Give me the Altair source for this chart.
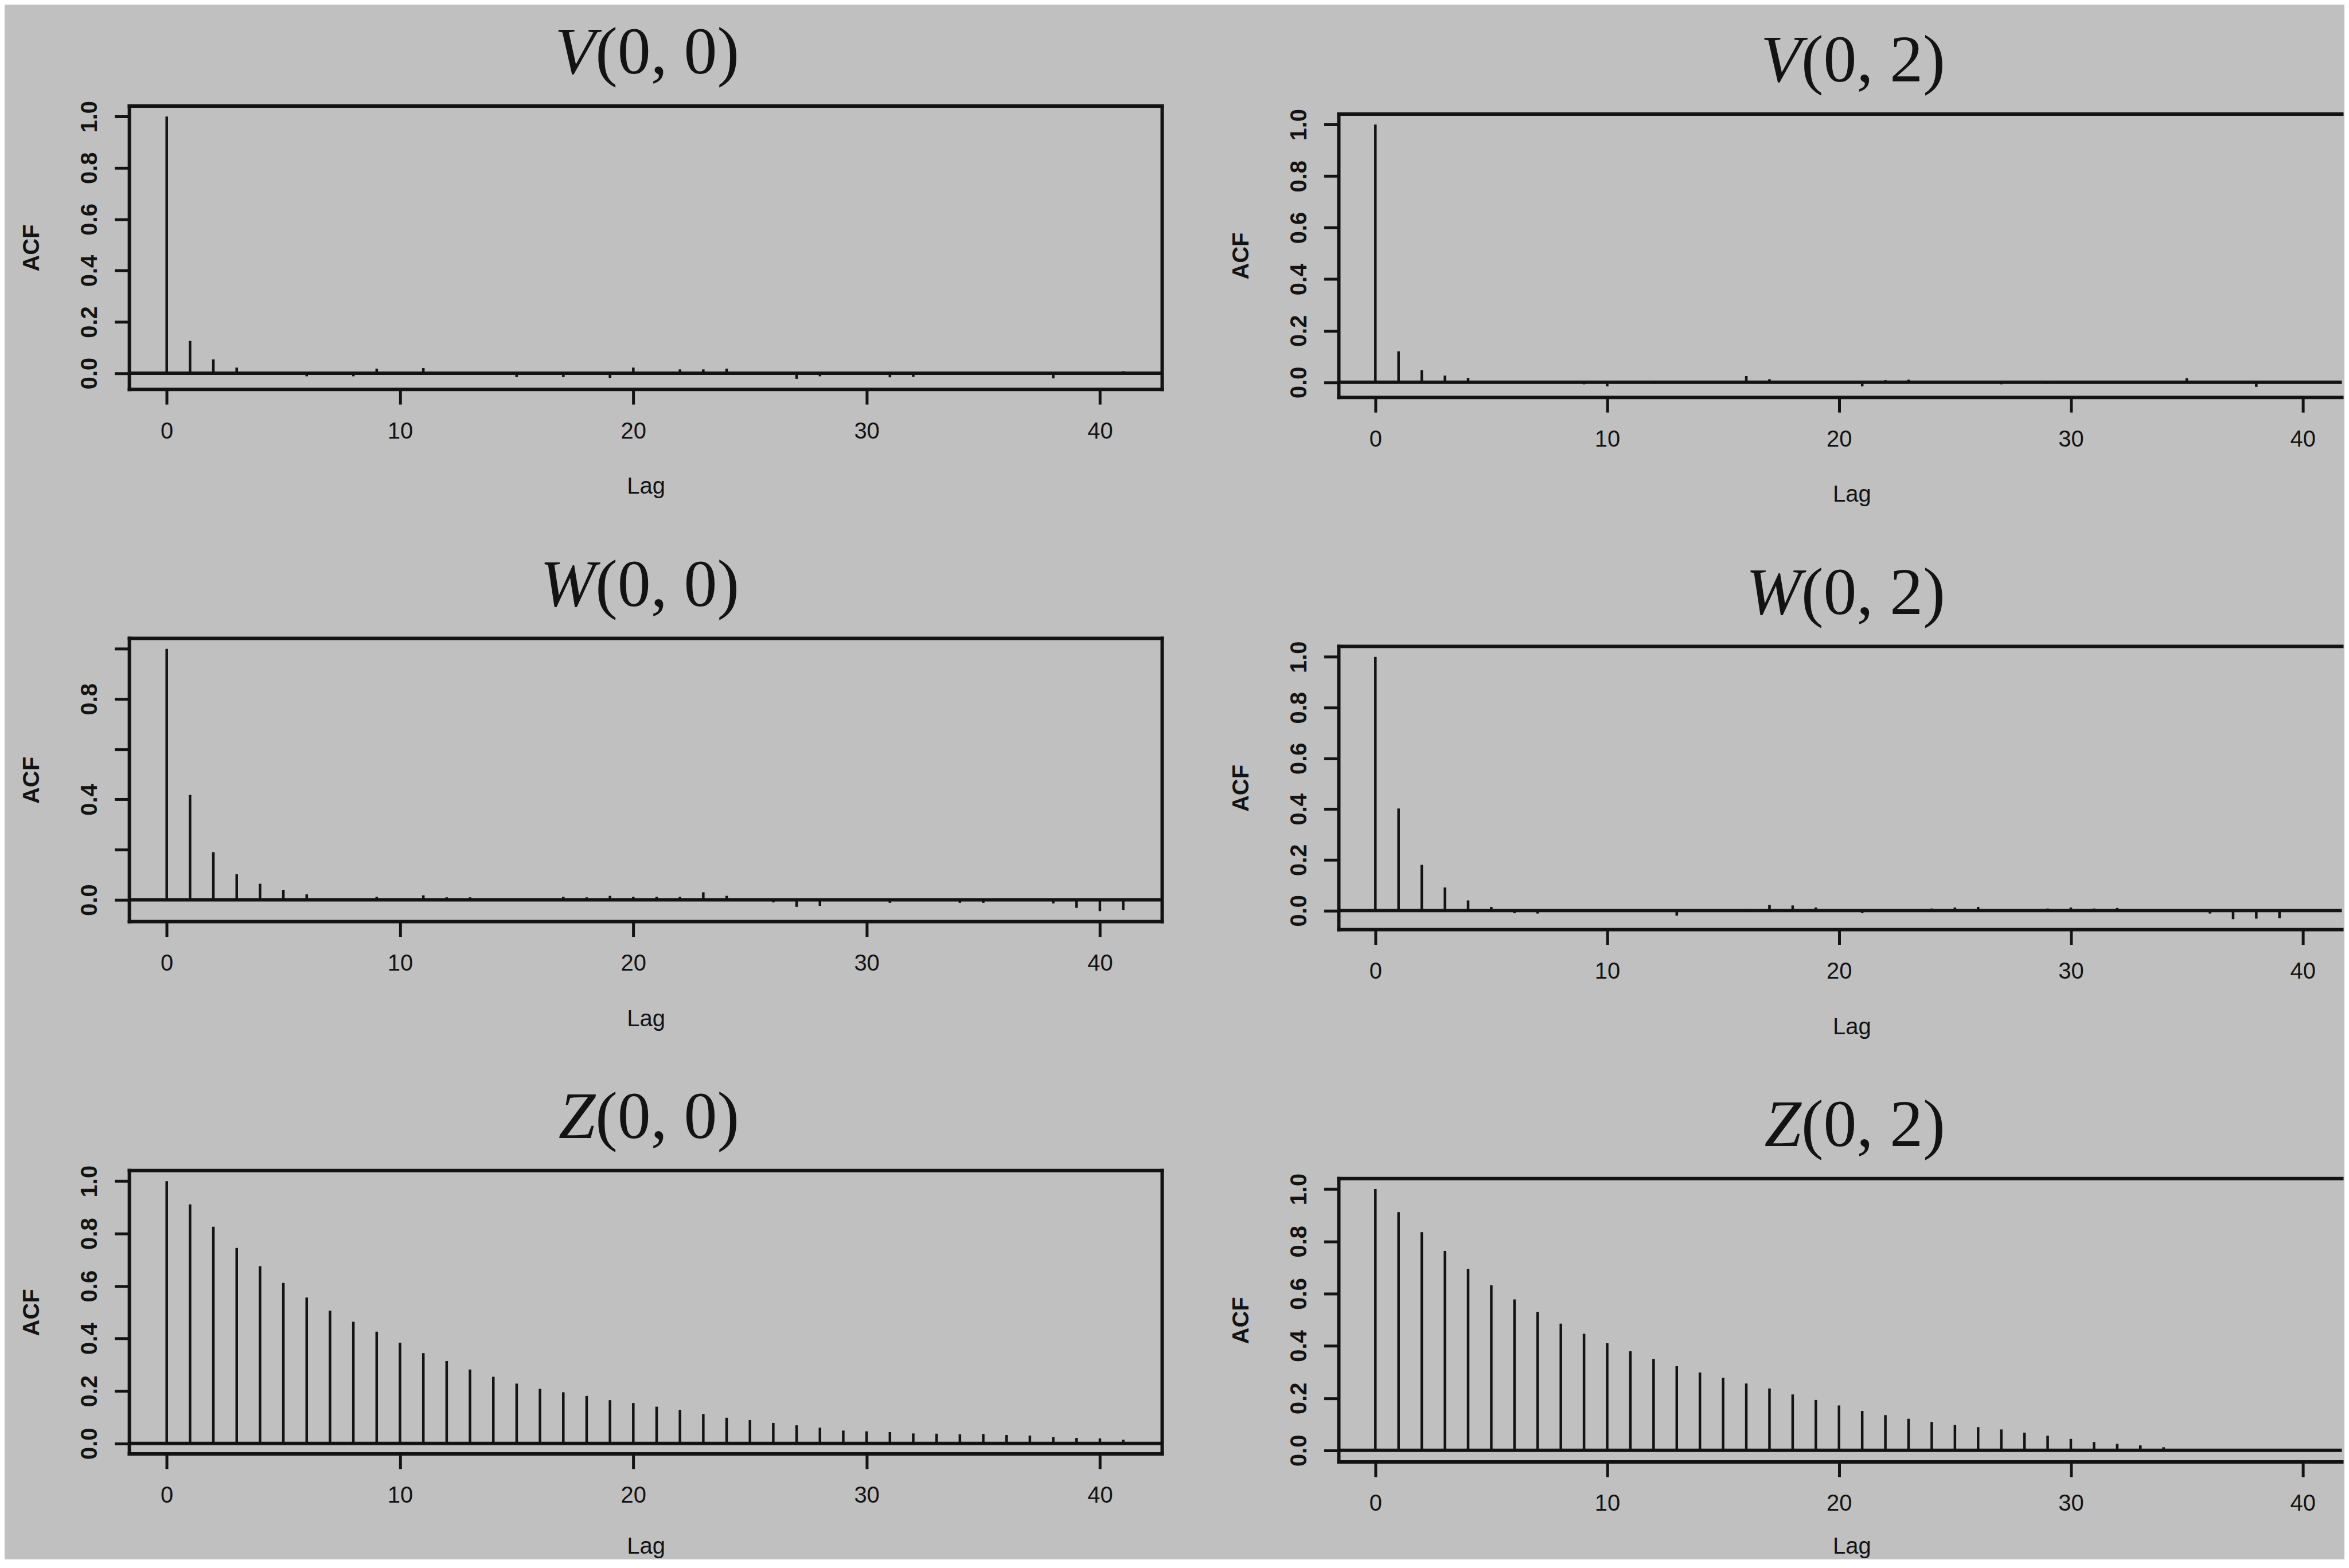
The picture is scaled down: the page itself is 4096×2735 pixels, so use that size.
import altair as alt
import pandas as pd

# ---------------- data ----------------
LAGS = list(range(42))

V00 = [1.0, 0.126, 0.054, 0.022, 0.003, -0.002, -0.012, -0.006, -0.012, 0.018,
       -0.004, 0.02, 0.002, -0.003, -0.002, -0.015, 0.002, -0.015, -0.002, -0.018,
       0.022, 0.002, 0.015, 0.015, 0.018, -0.003, -0.006, -0.022, -0.012, 0.006,
       -0.002, -0.016, -0.014, -0.002, 0.002, 0.004, -0.002, 0.002, -0.02, -0.002,
       -0.003, 0.008]

V02 = [1.0, 0.12, 0.047, 0.026, 0.017, 0.004, 0.002, -0.004, 0.006, -0.008,
       -0.016, -0.002, -0.006, 0.006, 0.002, 0.004, 0.024, 0.012, 0.002, -0.004,
       0.002, -0.016, 0.008, 0.01, -0.004, 0.002, 0.004, -0.008, 0.002, -0.006,
       0.003, 0.002, -0.004, 0.002, 0.002, 0.016, 0.003, -0.002, -0.018, 0.002,
       -0.004, 0.003]

W00 = [1.0, 0.418, 0.19, 0.102, 0.064, 0.04, 0.022, 0.003, 0.002, 0.012,
       0.002, 0.018, 0.01, 0.01, 0.002, -0.002, 0.005, 0.012, 0.01, 0.016,
       0.012, 0.012, 0.012, 0.03, 0.016, 0.002, -0.01, -0.028, -0.024, -0.004,
       0.002, -0.012, -0.002, -0.004, -0.012, -0.012, -0.003, -0.004, -0.014, -0.032,
       -0.045, -0.04]

W02 = [1.0, 0.402, 0.18, 0.091, 0.04, 0.014, -0.01, -0.012, -0.002, 0.002,
       -0.006, -0.002, 0.002, -0.02, 0.002, -0.002, 0.006, 0.022, 0.02, 0.012,
       0.002, -0.01, -0.006, -0.006, 0.008, 0.012, 0.014, 0.002, -0.006, 0.008,
       0.012, 0.008, 0.01, 0.003, 0.003, 0.004, -0.012, -0.034, -0.032, -0.03,
       -0.005, 0.002]

Z00 = [1.0, 0.911, 0.826, 0.745, 0.676, 0.612, 0.556, 0.506, 0.464, 0.426,
       0.384, 0.344, 0.314, 0.282, 0.254, 0.228, 0.208, 0.195, 0.181, 0.165,
       0.154, 0.14, 0.128, 0.112, 0.098, 0.089, 0.078, 0.069, 0.06, 0.049,
       0.046, 0.043, 0.038, 0.037, 0.035, 0.036, 0.032, 0.03, 0.024, 0.021,
       0.019, 0.014]

Z02 = [1.0, 0.912, 0.835, 0.763, 0.695, 0.632, 0.578, 0.53, 0.485, 0.446,
       0.41, 0.379, 0.35, 0.322, 0.298, 0.278, 0.256, 0.237, 0.214, 0.193,
       0.172, 0.151, 0.135, 0.121, 0.109, 0.097, 0.089, 0.08, 0.068, 0.056,
       0.044, 0.032, 0.025, 0.019, 0.012, 0.004, 0.0, -0.004, 0.0, 0.002,
       0.004, 0.002]

X_TICKS = [0, 10, 20, 30, 40]
Y_TICKS = [0.0, 0.2, 0.4, 0.6, 0.8, 1.0]
ALL_LABELS = ["0.0", "0.2", "0.4", "0.6", "0.8", "1.0"]
SPARSE_LABELS = ["0.0", "0.4", "0.8"]

# ---------------- style / layout ----------------
BG = "#c0c0c0"
INK = "#131313"
SANS = "Liberation Sans"
SERIF = "Liberation Serif"

H = 495            # box height
D_RIGHT = 14       # right column sits a little lower
W_L = 1804
W_R = 1752
XDOM_L = [-1.6, 42.67]
XDOM_R = [-1.578, 41.69]
CX_R = 895.8       # centre of the (partly cut) right box
FS_TITLE = 116
FS = 40
LW_FRAME = 6
LW_SPIKE = 4.5
LW_TICK = 5


def panel(vals, letter, rest, labels_keep, right, last_row):
    W = W_R if right else W_L
    top = D_RIGHT if right else 0
    bottom = top + H
    cx = CX_R if right else W_L / 2
    xdom = XDOM_R if right else XDOM_L

    lo = min(min(vals), 0.0)
    rng = 1.0 - lo
    ydom = [lo - 0.04 * rng, 1.0 + 0.04 * rng]

    df = pd.DataFrame({"lag": LAGS, "acf": vals})
    one = pd.DataFrame({"k": [0]})

    xs = alt.Scale(domain=xdom, nice=False, zero=False)
    if right:
        ys = alt.Scale(domain=ydom, range=[bottom, top], nice=False, zero=False)
    else:
        ys = alt.Scale(domain=ydom, nice=False, zero=False)

    keep = "[" + ",".join("'" + v + "'" for v in labels_keep) + "]"
    if last_row:
        lag_y = 160 if right else 174
    else:
        lag_y = 182

    xaxis = alt.Axis(
        values=X_TICKS, format="d", domain=False, grid=False,
        tickSize=26, tickWidth=LW_TICK, tickColor=INK,
        labelFont=SANS, labelFontSize=FS, labelColor=INK,
        labelBaseline="alphabetic", labelPadding=59,
        labelFlush=False, labelOverlap=False,
        title="Lag", titleFont=SANS, titleFontSize=FS, titleFontWeight="normal",
        titleColor=INK, titleBaseline="alphabetic", titleAlign="center",
        titleX=cx, titleY=lag_y,
    )
    yaxis = alt.Axis(
        values=Y_TICKS, format=".1f", domain=False, grid=False,
        tickSize=26, tickWidth=LW_TICK, tickColor=INK,
        labelFont=SANS, labelFontSize=FS, labelFontWeight="bold", labelColor=INK,
        labelAngle=270, labelAlign="center", labelBaseline="alphabetic",
        labelPadding=31.5, labelOverlap=False, labelFlush=False,
        labelExpr="indexof(" + keep + ", datum.label) >= 0 ? datum.label : ''",
        title="ACF", titleFont=SANS, titleFontSize=FS, titleFontWeight="bold",
        titleColor=INK, titleAngle=270, titleAlign="center",
        titleBaseline="alphabetic", titleX=-158.5,
    )

    spikes = alt.Chart(df).mark_rule(color=INK, strokeWidth=LW_SPIKE).encode(
        x=alt.X("lag:Q", scale=xs, axis=xaxis),
        y=alt.Y("acf:Q", scale=ys, axis=yaxis),
        y2=alt.datum(0),
    )
    zero = alt.Chart(one).mark_rule(color=INK, strokeWidth=LW_FRAME).encode(
        y=alt.datum(0)
    )

    parts = [
        dict(x=alt.value(0), x2=alt.value(W), y=alt.value(top)),
        dict(x=alt.value(0), x2=alt.value(W), y=alt.value(bottom)),
        dict(x=alt.value(0), y=alt.value(top), y2=alt.value(bottom)),
    ]
    if not right:
        parts.append(dict(x=alt.value(W), y=alt.value(top), y2=alt.value(bottom)))
    frames = [
        alt.Chart(one).mark_rule(color=INK, strokeWidth=LW_FRAME, strokeCap="square").encode(**p)
        for p in parts
    ]

    split = cx - 88
    t1 = alt.Chart(one).mark_text(
        text=letter, font=SERIF, fontSize=FS_TITLE, fontStyle="italic",
        align="right", baseline="alphabetic", color=INK,
    ).encode(x=alt.value(split), y=alt.value(top - 57))
    t2 = alt.Chart(one).mark_text(
        text=rest, font=SERIF, fontSize=FS_TITLE,
        align="left", baseline="alphabetic", color=INK,
    ).encode(x=alt.value(split), y=alt.value(top - 57))

    return alt.layer(spikes, zero, *frames, t1, t2).properties(
        width=W, height=(H + D_RIGHT) if right else H
    )


cells = [
    panel(V00, "V", "(0, 0)", ALL_LABELS, False, False),
    panel(V02, "V", "(0, 2)", ALL_LABELS, True, False),
    panel(W00, "W", "(0, 0)", SPARSE_LABELS, False, False),
    panel(W02, "W", "(0, 2)", ALL_LABELS, True, False),
    panel(Z00, "Z", "(0, 0)", ALL_LABELS, False, True),
    panel(Z02, "Z", "(0, 2)", ALL_LABELS, True, True),
]

chart = alt.concat(
    *cells, columns=2, bounds="flush",
    spacing={"row": 421, "column": 308.5},
).properties(
    padding={"left": 27, "top": 25, "right": 0, "bottom": 0},
    background=BG,
).configure_view(stroke=None)

chart.save("out.html", embed_options={"renderer": "svg", "actions": False})
